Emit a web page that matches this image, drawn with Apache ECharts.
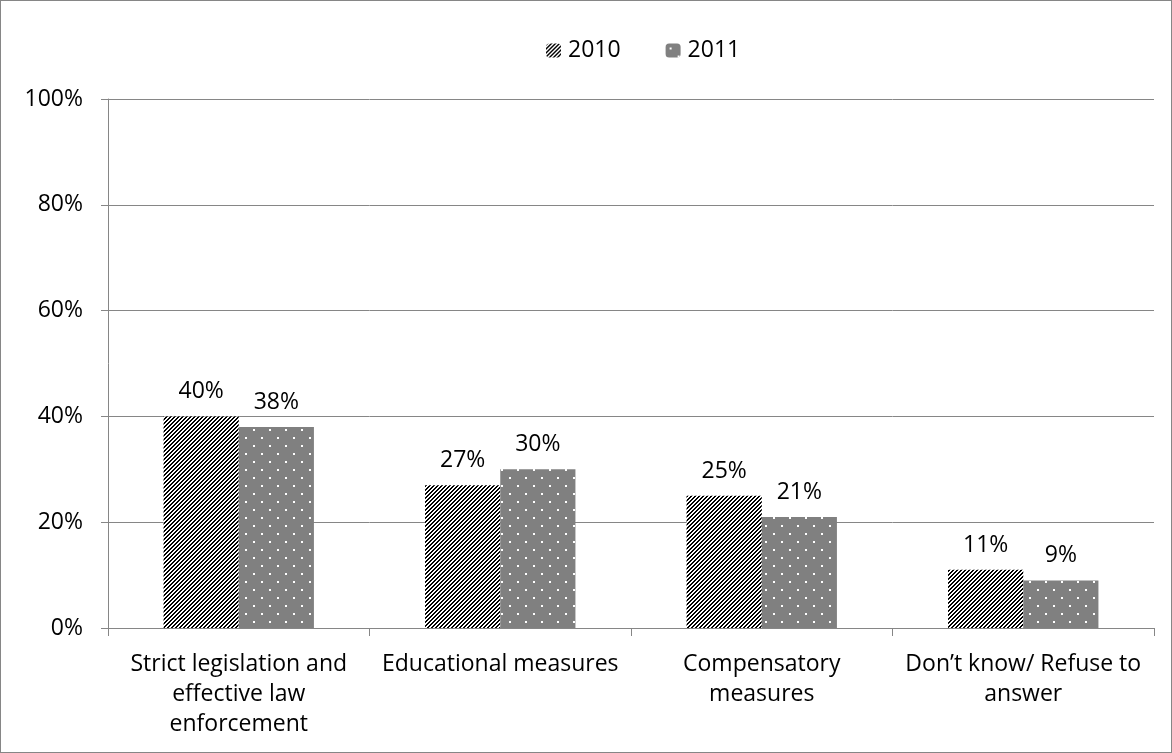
<!DOCTYPE html>
<html>
	<head>
		<meta charset="UTF-8">
		<title></title>
		<script src="https://cdn.jsdelivr.net/npm/echarts@6/dist/echarts.min.js" type="text/javascript" charset="utf-8"></script>
		<style>
			html, body {margin: 0; padding: 0; background: #fff;}
			#frame {position: absolute; left: 0; top: 0; width: 1170px; height: 751px; border: 1px solid #868686;}
			#chart {width: 1170px; height: 751px;}
		</style>
	</head>
	<body>
		<div id="frame"><div id="chart"></div></div>
		<script type="text/javascript">
			var categories = ['Strict legislation and\neffective law\nenforcement', 'Educational measures', 'Compensatory\nmeasures', 'Don\u2019t know/ Refuse to\nanswer'];
			var years = ['2010', '2011'];
			var values2010 = [40, 27, 25, 11];
			var values2011 = [38, 30, 21, 9];
			var yTicks = [0, 20, 40, 60, 80, 100];

			// diagonal black/white stripes
			function stripeCanvas() {
				var c = document.createElement('canvas');
				c.width = 4; c.height = 4;
				var ctx = c.getContext('2d');
				var img = ctx.createImageData(4, 4);
				for (var y = 0; y < 4; y++) {
					for (var x = 0; x < 4; x++) {
						var k = (y * 4 + x) * 4;
						var v = ((x + y) % 4) < 2 ? 0 : 255;
						img.data[k] = v; img.data[k + 1] = v; img.data[k + 2] = v; img.data[k + 3] = 255;
					}
				}
				ctx.putImageData(img, 0, 0);
				return c;
			}
			// grey with white dots
			function dotCanvas() {
				var c = document.createElement('canvas');
				c.width = 16; c.height = 16;
				var ctx = c.getContext('2d');
				ctx.fillStyle = '#808080';
				ctx.fillRect(0, 0, 16, 16);
				ctx.fillStyle = '#ffffff';
				ctx.fillRect(4, 4, 2, 2);
				ctx.fillRect(12, 12, 2, 2);
				return c;
			}
			var stripes = {image: stripeCanvas(), repeat: 'repeat'};
			var dots = {image: dotCanvas(), repeat: 'repeat'};

			var font = '"Open Sans", Lato, sans-serif';
			var fs = 23;
			var chart = echarts.init(document.getElementById('chart'));
			var option = {
				animation: false,
				textStyle: {fontFamily: font},
				legend: {
					top: 33,
					left: 540,
					itemWidth: 15,
					itemHeight: 14,
					itemGap: 45,
					textStyle: {fontSize: fs, color: '#000', fontFamily: font, padding: [0, 0, 0, 2]},
					data: years
				},
				grid: {left: 107, right: 17, top: 98, bottom: 124},
				xAxis: {
					type: 'category',
					data: categories,
					axisLine: {lineStyle: {color: '#868686'}},
					axisTick: {show: true, alignWithLabel: false, length: 8, lineStyle: {color: '#868686'}},
					axisLabel: {fontSize: fs, color: '#000', lineHeight: 30, margin: 21, interval: 0, fontFamily: font}
				},
				yAxis: {
					type: 'value',
					min: yTicks[0],
					max: yTicks[yTicks.length - 1],
					interval: 20,
					axisLine: {show: true, lineStyle: {color: '#868686'}},
					axisTick: {show: true, length: 7, lineStyle: {color: '#868686'}},
					splitLine: {lineStyle: {color: '#868686'}},
					axisLabel: {formatter: '{value}%', fontSize: fs, color: '#000', margin: 25, fontFamily: font}
				},
				series: [
					{
						name: years[0],
						type: 'bar',
						data: values2010,
						barGap: '0%',
						barCategoryGap: '42.5%',
						itemStyle: {color: stripes},
						label: {show: true, position: 'top', distance: 13, formatter: '{c}%', fontSize: fs, color: '#000', fontFamily: font}
					},
					{
						name: years[1],
						type: 'bar',
						data: values2011,
						barGap: '0%',
						barCategoryGap: '42.5%',
						itemStyle: {color: dots},
						label: {show: true, position: 'top', distance: 13, formatter: '{c}%', fontSize: fs, color: '#000', fontFamily: font}
					}
				]
			};
			chart.setOption(option, true);
		</script>
	</body>
</html>
